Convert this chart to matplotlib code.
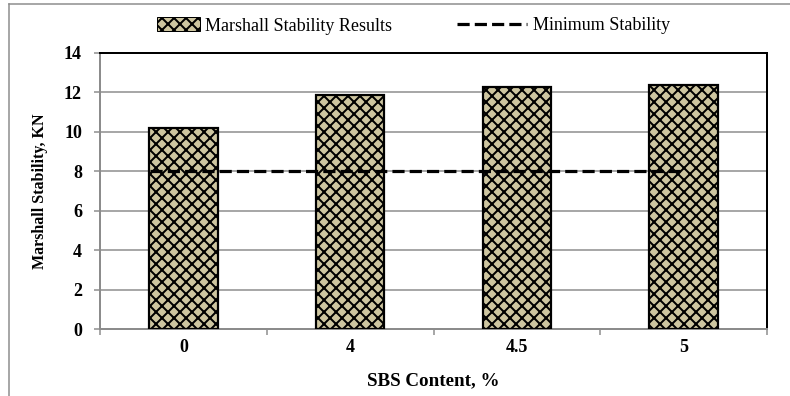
import matplotlib.pyplot as plt
from matplotlib.lines import Line2D
from matplotlib.patches import Patch

plt.rcParams['font.family'] = ['Liberation Serif', 'DejaVu Serif']
plt.rcParams['hatch.linewidth'] = 2.0
plt.rcParams['hatch.color'] = 'black'

# data
sbs_content = ['0', '4', '4.5', '5']
stability = [10.2, 11.85, 12.3, 12.4]
min_stability = 8
min_line_x = [-0.2, 2.98]

W, H = 790, 396
fig = plt.figure(figsize=(W / 72, H / 72), dpi=72)
ax = fig.add_axes([100 / W, 1 - 329 / H, 667 / W, 276 / H])

x = range(len(sbs_content))
ax.bar(x, stability, width=0.41, color='#cdc5a0', edgecolor='black',
       linewidth=2.2, hatch='xx', zorder=3)
ax.plot(min_line_x, [min_stability] * 2, color='black', lw=3.2,
        linestyle=(0, (3.8, 1.6)), zorder=4)

ax.set_xlim(-0.5, len(sbs_content) - 0.5)
ax.set_ylim(0, 14)
ax.set_yticks(range(0, 15, 2))
ax.set_xticks(list(x))
ax.set_xticklabels(sbs_content, fontsize=18, fontweight='bold')
ax.set_xticks([i - 0.5 for i in range(len(sbs_content) + 1)], minor=True)
ax.tick_params(axis='x', which='major', length=0, pad=10)
ax.tick_params(axis='x', which='minor', length=6, width=1.5, color='#8c8c8c')
ax.tick_params(axis='y', length=6, width=1.5, color='#8c8c8c', labelsize=18, pad=12)
for lbl in ax.get_yticklabels():
    lbl.set_fontweight('bold')

ax.grid(axis='y', color='#8c8c8c', lw=1.5, zorder=0)
ax.set_axisbelow(True)
for side in ['left', 'bottom']:
    ax.spines[side].set_color('#8c8c8c')
    ax.spines[side].set_linewidth(2)
for side in ['top', 'right']:
    ax.spines[side].set_color('black')
    ax.spines[side].set_linewidth(2)

ax.set_xlabel('SBS Content, %', fontsize=19, fontweight='bold', labelpad=16)
ax.set_ylabel('Marshall Stability, KN', fontsize=16, fontweight='bold', labelpad=16)

# legends along the top
fs = 18
bar_handle = Patch(facecolor='#cdc5a0', edgecolor='black', hatch='xx', lw=1)
line_handle = Line2D([], [], color='black', lw=3.2, linestyle=(0, (3.8, 1.6)))
leg1 = fig.legend([bar_handle], ['Marshall Stability Results'], loc='center left',
                  bbox_to_anchor=((157 - 0.9 * fs) / W, 1 - 26 / H), frameon=False,
                  fontsize=fs, handlelength=43 / fs, handleheight=14 / fs,
                  handletextpad=0.3)
fig.legend([line_handle], ['Minimum Stability'], loc='center left',
           bbox_to_anchor=((457 - 0.9 * fs) / W, 1 - 26 / H), frameon=False,
           fontsize=fs, handlelength=70 / fs, handletextpad=0.35)

# outer frame
fig.add_artist(Line2D([9 / W, 1], [1 - 4 / H] * 2, color='#8c8c8c', lw=1.5))
fig.add_artist(Line2D([9 / W] * 2, [0, 1 - 4 / H], color='#8c8c8c', lw=1.5))

fig.savefig('out.png', dpi=72)
